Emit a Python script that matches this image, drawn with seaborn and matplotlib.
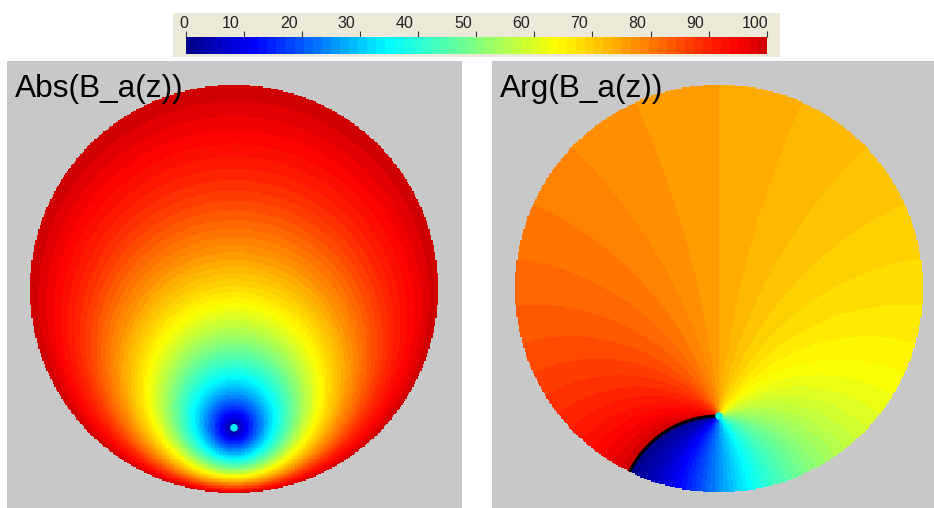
import numpy as np
import matplotlib
matplotlib.use("Agg")
import matplotlib.pyplot as plt
import matplotlib.transforms as mtransforms
from matplotlib.colors import LinearSegmentedColormap, ListedColormap
from matplotlib.patches import Rectangle
import seaborn as sns

# ---------------- data ----------------
a_abs = complex(0.0, -0.68)      # zero of the Blaschke factor (left panel)
a_arg = complex(0.0, -0.625)     # zero of the Blaschke factor (right panel)
tick_values = [0, 10, 20, 30, 40, 50, 60, 70, 80, 90, 100]
tick_labels = ["0", "10", "20", "30", "40", "50", "60", "70", "80", "90", "100"]
cmap_positions = [0.0, 0.11, 0.35, 0.50, 0.64, 0.80, 0.90, 0.96, 1.0]
cmap_colors = [(0.0, 0.0, 0.55), (0.0, 0.0, 1.0), (0.0, 1.0, 1.0), (0.5, 1.0, 0.5),
               (1.0, 1.0, 0.0), (1.0, 0.5, 0.0), (1.0, 0.15, 0.0), (0.99, 0.0, 0.0),
               (0.82, 0.0, 0.0)]
n_levels = 64
titles = ["Abs(B_a(z))", "Arg(B_a(z))"]

# ---------------- setup ----------------
sns.set_theme(style="white")
plt.rcParams["font.family"] = ["Liberation Sans", "DejaVu Sans"]

W, H = 934, 508
fig = plt.figure(figsize=(W / 100, H / 100), dpi=100)
fig.patch.set_facecolor("white")

base = LinearSegmentedColormap.from_list("jetlike", list(zip(cmap_positions, cmap_colors)))
cmap = ListedColormap(base(np.linspace(0, 1, n_levels)))


def px_axes(x0, y0, x1, y1):
    return fig.add_axes([x0 / W, 1 - y1 / H, (x1 - x0) / W, (y1 - y0) / H])


N = 300
c = -1 + (np.arange(N) + 0.5) * 2 / N
X, Y = np.meshgrid(c, c[::-1])
Z = X + 1j * Y
outside = np.abs(Z) > 1.0


def blaschke(z, a):
    return (z - a) / (1 - np.conj(a) * z)


def u_of(x):
    return (x + 1) * N / 2


def v_of(y):
    return (1 - y) * N / 2


panel_boxes = [(7, 61, 462, 508), (492, 61, 934, 508)]
centers = [(234, 289), (719, 288.5)]
R = 204.0
gray = "#c8c8c8"

fields = [np.abs(blaschke(Z, a_abs)) * 100,
          (np.angle(blaschke(Z, a_arg)) + np.pi) / (2 * np.pi) * 100]
zeros = [a_abs, a_arg]

# beige colour-bar box (drawn underneath everything)
fig.patches.append(Rectangle((173 / W, 1 - 57 / H), (780 - 173) / W, (57 - 13) / H,
                             transform=fig.transFigure, facecolor="#ece9d8",
                             edgecolor="none", zorder=-5))

for k in range(2):
    x0, y0, x1, y1 = panel_boxes[k]
    cx, cy = centers[k]
    ax = px_axes(x0, y0, x1, y1)
    ax.set_facecolor(gray)
    sns.heatmap(fields[k], mask=outside, cmap=cmap, vmin=0, vmax=100, cbar=False,
                xticklabels=False, yticklabels=False, ax=ax, rasterized=True)
    ax.set_xlim(u_of((x0 - cx) / R), u_of((x1 - cx) / R))
    ax.set_ylim(v_of(-(y1 - cy) / R), v_of((cy - y0) / R))
    for s in ax.spines.values():
        s.set_visible(False)
    a = zeros[k]
    if k == 1:
        s_ = np.linspace(0, 1, 300)
        w = -s_
        zc = (w + a) / (1 + np.conj(a) * w)
        ax.plot(u_of(zc.real), v_of(zc.imag), color="black", lw=2.3,
                solid_capstyle="butt")
    ax.scatter([u_of(a.real)], [v_of(a.imag)], s=30, color=(0.0, 0.95, 0.95),
               edgecolors="none", zorder=5)
    ax.text(0.0, 1.0, titles[k], transform=mtransforms.offset_copy(
                ax.transAxes, fig=fig, x=8 * 0.72, y=-36 * 0.72, units="points"),
            fontsize=22.8, va="baseline", ha="left", color="black")

# ---------------- colorbar ----------------
cax = px_axes(185.7, 37, 766.7, 54)
cax.set_zorder(2)
levels = (np.arange(n_levels) + 0.5) / n_levels * 100
sns.heatmap(levels[None, :], cmap=cmap, vmin=0, vmax=100, cbar=False,
            xticklabels=False, yticklabels=False, ax=cax)
for s in cax.spines.values():
    s.set_visible(False)
cax.xaxis.tick_top()
tick_pos = [v / 100 * n_levels for v in tick_values]
cax.set_xticks(tick_pos)
cax.set_xticklabels([])
cax.tick_params(axis="x", which="both", top=True, bottom=False, length=4.3,
                width=0.8, color="#333333", direction="out", labeltop=False)
trans = mtransforms.blended_transform_factory(cax.transData, cax.transAxes)
for i, (p, lab) in enumerate(zip(tick_pos, tick_labels)):
    if i == 0:
        dx, ha = -1.5, "center"
    elif i == len(tick_pos) - 1:
        dx, ha = 1.5, "right"
    else:
        dx, ha = -4.5, "right"
    t = mtransforms.offset_copy(trans, fig=fig, x=dx * 0.72, y=9 * 0.72, units="points")
    cax.text(p, 1.0, lab, transform=t, ha=ha, va="baseline", fontsize=11.5,
             family=["Liberation Sans Narrow", "Liberation Sans", "DejaVu Sans"],
             color="#222222", clip_on=False)

fig.savefig("out.png", dpi=100, facecolor="white")
